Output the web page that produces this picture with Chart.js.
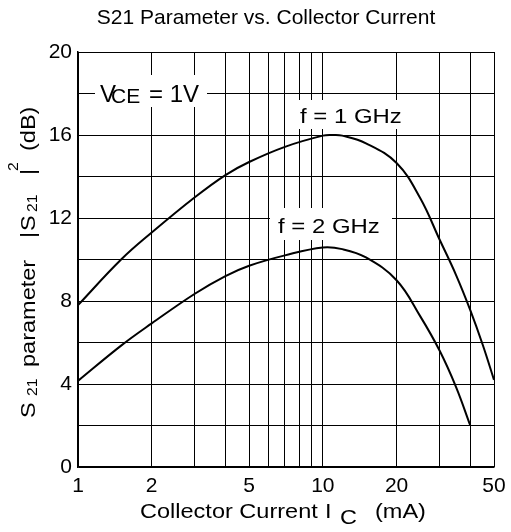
<!DOCTYPE html>
<html lang="en">
<head>
    <meta charset="UTF-8">
    <title>S21 Parameter vs. Collector Current</title>
    <script src="https://cdn.jsdelivr.net/npm/chart.js"></script>
    <style>
        body {
            margin: 0;
            padding: 0;
            background: #fff;
        }
        #s21Chart {
            display: block;
        }
    </style>
</head>
<body>
    <canvas id="s21Chart" width="511" height="532"></canvas>

    <script>
        // collector current (mA) and |S21|^2 (dB)
        var current1GHz = [1, 1.5, 2, 3, 4, 5, 7, 10, 11, 12, 15, 20, 25, 30, 35, 40, 45, 50];
        var gain1GHz = [7.8, 10.0, 11.3, 13.0, 14.07, 14.7, 15.43, 15.97, 16.0, 15.97, 15.6, 14.65, 12.95, 10.95, 9.25, 7.56, 5.88, 4.2];

        var current2GHz = [1, 1.5, 2, 3, 4, 5, 7, 10, 12, 15, 20, 25, 30, 35, 40];
        var gain2GHz = [4.15, 5.85, 6.92, 8.35, 9.2, 9.7, 10.2, 10.58, 10.5, 10.1, 9.0, 7.26, 5.6, 3.85, 2.0];

        var xGridValues = [1, 2, 3, 4, 5, 6, 7, 8, 9, 10, 20, 30, 40, 50];
        var xTickLabels = [1, 2, 5, 10, 20, 50];
        var yTickLabels = [0, 4, 8, 12, 16, 20];

        var FONT = '"Liberation Sans", Arial, sans-serif';

        function toPoints(xs, ys) {
            return xs.map(function (x, i) { return { x: x, y: ys[i] }; });
        }

        // draw a piece of text, optionally stretched horizontally and rotated
        function putText(ctx, str, x, y, size, sx, rot) {
            ctx.save();
            ctx.translate(x, y);
            if (rot) ctx.rotate(rot);
            ctx.scale(sx || 1, 1);
            ctx.font = size + 'px ' + FONT;
            ctx.fillStyle = '#000';
            ctx.textAlign = 'left';
            ctx.textBaseline = 'alphabetic';
            ctx.fillText(str, 0, 0);
            ctx.restore();
        }

        function whiteBox(ctx, x0, y0, x1, y1) {
            ctx.save();
            ctx.fillStyle = '#fff';
            ctx.fillRect(x0, y0, x1 - x0, y1 - y0);
            ctx.restore();
        }

        var textPlugin = {
            id: 'datasheetText',
            afterDraw: function (chart) {
                var ctx = chart.ctx;
                var up = -Math.PI / 2;

                // title
                ctx.save();
                ctx.font = '21px ' + FONT;
                ctx.fillStyle = '#000';
                ctx.textAlign = 'center';
                ctx.fillText('S21 Parameter vs. Collector Current', 266, 24);
                ctx.restore();

                // y axis title, reading bottom to top
                putText(ctx, 'S', 35, 418, 21, 1.12, up);
                putText(ctx, '21', 37, 396, 14, 1.12, up);
                putText(ctx, 'parameter', 35, 367, 21, 1.12, up);
                putText(ctx, '|', 35, 238, 21, 1.12, up);
                putText(ctx, 'S', 35, 231, 21, 1.12, up);
                putText(ctx, '21', 37, 212, 14, 1.12, up);
                putText(ctx, '|', 35, 175, 21, 1.12, up);
                putText(ctx, '2', 18, 171, 14, 1.12, up);
                putText(ctx, '(dB)', 35, 151, 21, 1.12, up);

                // x axis title
                putText(ctx, 'Collector Current', 140, 518, 21, 1.12);
                putText(ctx, 'I', 325, 518, 21, 1.12);
                putText(ctx, 'C', 340, 524, 21, 1.12);
                putText(ctx, '(mA)', 375, 518, 21, 1.12);

                // annotations inside the plot
                whiteBox(ctx, 95, 75, 207, 107);
                putText(ctx, 'V', 100, 102, 24, 1);
                putText(ctx, 'CE', 111, 103, 21, 1);
                putText(ctx, '= 1V', 149, 102, 24, 1);

                whiteBox(ctx, 293, 100, 397, 129);
                putText(ctx, 'f = 1 GHz', 300, 123, 21, 1.14);

                whiteBox(ctx, 270, 208, 392, 240);
                putText(ctx, 'f = 2 GHz', 278, 233, 21, 1.14);
            }
        };

        var ctx = document.getElementById('s21Chart').getContext('2d');
        var s21Chart = new Chart(ctx, {
            type: 'line',
            data: {
                datasets: [{
                    label: 'f = 1 GHz',
                    data: toPoints(current1GHz, gain1GHz),
                    borderColor: '#000',
                    borderWidth: 2,
                    pointRadius: 0,
                    fill: false,
                    tension: 0.4
                }, {
                    label: 'f = 2 GHz',
                    data: toPoints(current2GHz, gain2GHz),
                    borderColor: '#000',
                    borderWidth: 2,
                    pointRadius: 0,
                    fill: false,
                    tension: 0.4
                }]
            },
            options: {
                responsive: false,
                animation: false,
                devicePixelRatio: 1,
                layout: {
                    padding: { top: 52, right: 17, left: 0, bottom: 0 }
                },
                plugins: {
                    legend: { display: false },
                    tooltip: { enabled: false }
                },
                scales: {
                    x: {
                        type: 'logarithmic',
                        min: 1,
                        max: 50,
                        afterBuildTicks: function (scale) {
                            scale.ticks = xGridValues.map(function (v) { return { value: v }; });
                        },
                        afterFit: function (scale) {
                            scale.height = 65;
                            scale.paddingLeft = 0;
                            scale.paddingRight = 0;
                        },
                        grid: { color: '#000', lineWidth: 1, drawTicks: false },
                        border: { color: '#000', width: 1.5 },
                        ticks: {
                            autoSkip: false,
                            maxRotation: 0,
                            padding: 7,
                            color: '#000',
                            font: { family: FONT, size: 21 },
                            callback: function (v) {
                                return xTickLabels.indexOf(v) >= 0 ? String(v) : '';
                            }
                        }
                    },
                    y: {
                        min: 0,
                        max: 20,
                        afterFit: function (scale) {
                            scale.width = 78;
                            scale.paddingTop = 0;
                            scale.paddingBottom = 0;
                        },
                        grid: { color: '#000', lineWidth: 1, drawTicks: false },
                        border: { color: '#000', width: 1.5 },
                        ticks: {
                            stepSize: 2,
                            padding: 6,
                            color: '#000',
                            font: { family: FONT, size: 21 },
                            callback: function (v) {
                                return yTickLabels.indexOf(v) >= 0 ? String(v) : '';
                            }
                        }
                    }
                }
            },
            plugins: [textPlugin]
        });
    </script>
</body>
</html>
